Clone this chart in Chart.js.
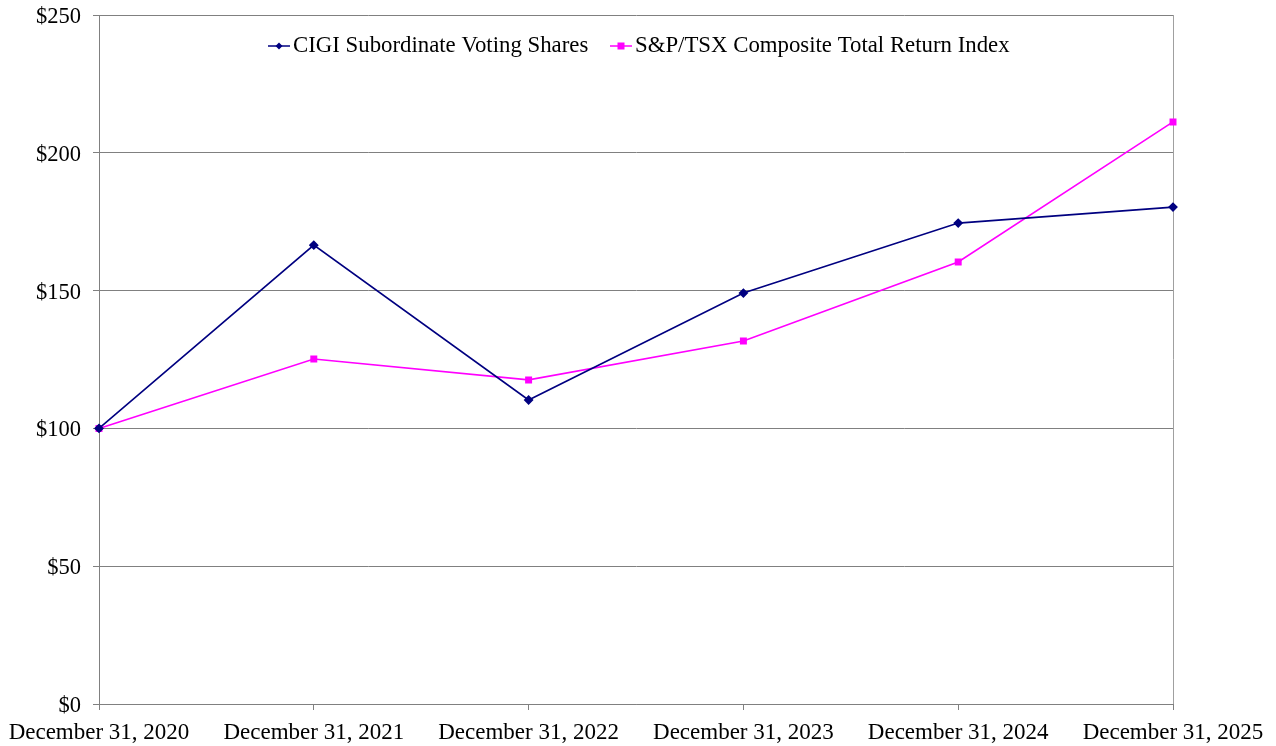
<!DOCTYPE html>
<html>
<head>
<meta charset="utf-8">
<script src="https://cdn.jsdelivr.net/npm/chart.js@4/dist/chart.umd.min.js"></script>
<style>
  html, body { margin: 0; padding: 0; background: #fff; }
  #wrap { width: 1276px; height: 746px; }
</style>
</head>
<body>
<div id="wrap"><canvas id="c" width="1276" height="746"></canvas></div>
<script>
// data
const periods = ["December 31, 2020", "December 31, 2021", "December 31, 2022",
                 "December 31, 2023", "December 31, 2024", "December 31, 2025"];
const cigiValues = [100, 166.5, 110.3, 149.1, 174.5, 180.3];
const tsxValues = [100, 125.2, 117.6, 131.7, 160.4, 211.2];
const seriesNames = ["CIGI Subordinate Voting Shares", "S&P/TSX Composite Total Return Index"];
const yTicks = [0, 50, 100, 150, 200, 250];

const FONT = "'Liberation Serif', 'Times New Roman', serif";
const NAVY = "#000080";
const PINK = "#FF00FF";

// legend drawn inside the plot, line + marker like the original
const legendPlugin = {
  id: "innerLegend",
  afterDraw(chart) {
    const ctx = chart.ctx;
    const items = [
      { x: 268, text: seriesNames[0], color: NAVY, style: "diamond" },
      { x: 610, text: seriesNames[1], color: PINK, style: "square" }
    ];
    const y = 46;
    ctx.save();
    ctx.font = "22.8px " + FONT;
    ctx.textBaseline = "middle";
    items.forEach(it => {
      ctx.strokeStyle = it.color;
      ctx.lineWidth = 1.5;
      ctx.beginPath();
      ctx.moveTo(it.x, y);
      ctx.lineTo(it.x + 22, y);
      ctx.stroke();
      ctx.fillStyle = it.color;
      const mx = it.x + 11;
      if (it.style === "diamond") {
        ctx.beginPath();
        ctx.moveTo(mx, y - 3.5);
        ctx.lineTo(mx + 3.5, y);
        ctx.lineTo(mx, y + 3.5);
        ctx.lineTo(mx - 3.5, y);
        ctx.closePath();
        ctx.fill();
      } else {
        ctx.fillRect(mx - 3.5, y - 3.5, 7, 7);
      }
      ctx.fillStyle = "#000";
      ctx.fillText(it.text, it.x + 25, y);
    });
    ctx.restore();
  }
};

// right edge of the plot frame
const framePlugin = {
  id: "frame",
  beforeDatasetsDraw(chart) {
    const a = chart.chartArea;
    const ctx = chart.ctx;
    ctx.save();
    ctx.strokeStyle = "#a0a0a0";
    ctx.lineWidth = 1;
    ctx.beginPath();
    ctx.moveTo(Math.round(a.right) + 0.5, a.top);
    ctx.lineTo(Math.round(a.right) + 0.5, a.bottom);
    ctx.stroke();
    ctx.restore();
  }
};

new Chart(document.getElementById("c").getContext("2d"), {
  type: "line",
  data: {
    labels: periods,
    datasets: [
      {
        label: seriesNames[0],
        data: cigiValues,
        borderColor: NAVY,
        backgroundColor: NAVY,
        borderWidth: 1.6,
        pointStyle: "rectRot",
        pointRadius: 3.8,
        tension: 0
      },
      {
        label: seriesNames[1],
        data: tsxValues,
        borderColor: PINK,
        backgroundColor: PINK,
        borderWidth: 1.6,
        pointStyle: "rect",
        pointRadius: 3.8,
        tension: 0
      }
    ]
  },
  options: {
    responsive: false,
    animation: false,
    layout: { padding: { top: 15, right: 103, left: 0, bottom: 0 } },
    plugins: {
      legend: { display: false },
      tooltip: { enabled: false }
    },
    scales: {
      x: {
        offset: false,
        grid: { display: true, drawOnChartArea: false, drawTicks: true, tickLength: 6, color: "#808080" },
        border: { color: "#808080" },
        ticks: { color: "#000", font: { family: FONT, size: 23 }, maxRotation: 0, autoSkip: false, padding: 9 },
        afterFit(scale) {
          scale.height = 42;
          scale.paddingLeft = 0;
          scale.paddingRight = 0;
        }
      },
      y: {
        min: 0,
        max: 250,
        afterBuildTicks(scale) { scale.ticks = yTicks.map(v => ({ value: v })); },
        grid: { color: "#808080", tickLength: 6, lineWidth: 1 },
        border: { color: "#808080" },
        ticks: {
          color: "#000",
          font: { family: FONT, size: 22.5 },
          padding: 12,
          labelOffset: 2,
          callback: v => "$" + v
        },
        afterFit(scale) {
          scale.width = 99;
          scale.paddingTop = 0;
          scale.paddingBottom = 0;
        }
      }
    }
  },
  plugins: [framePlugin, legendPlugin]
});
</script>
</body>
</html>
